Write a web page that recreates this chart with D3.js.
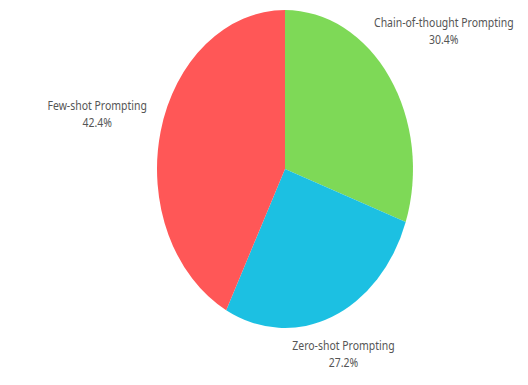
<!DOCTYPE html>
<html>
<head>
<meta charset="utf-8">
<script src="https://cdn.jsdelivr.net/npm/d3@7"></script>
<style>
  body { margin: 0; background: #fff; }
  svg { display: block; }
  .label { font-family: "Noto Sans", "Open Sans", sans-serif; font-size: 13px; fill: #555; }
</style>
</head>
<body>
<svg width="528" height="385"></svg>
<script>
const categories = ["Chain-of-thought Prompting", "Zero-shot Prompting", "Few-shot Prompting"];
const values = [30.4, 27.2, 42.4];
const colors = ["#7ed957", "#1cc0e2", "#ff5757"];

const svg = d3.select("svg"),
    width = +svg.attr("width"),
    height = +svg.attr("height");

const radius = 159;
// picture is squashed horizontally, so scale x
const g = svg.append("g")
    .attr("transform", "translate(285,169) scale(0.805,1)");

const pie = d3.pie().sort(null).value(d => d);
const arcs = pie(values);
const arc = d3.arc().innerRadius(0).outerRadius(radius);

g.selectAll("path")
    .data(arcs)
    .join("path")
    .attr("d", arc)
    .attr("fill", (d, i) => colors[i]);

const labelScale = [1.52, 1.24, 1.51];
const label = g.selectAll("text")
    .data(arcs)
    .join("text")
    .attr("class", "label")
    .attr("text-anchor", "middle")
    .attr("transform", (d, i) => {
        const a = (d.startAngle + d.endAngle) / 2;
        const r = radius * labelScale[i];
        return `translate(${Math.sin(a) * r},${-Math.cos(a) * r})`;
    });

label.append("tspan")
    .attr("x", 0)
    .attr("dy", "-0.2em")
    .text((d, i) => categories[i]);
label.append("tspan")
    .attr("x", 0)
    .attr("dy", "1.35em")
    .text(d => d.value.toFixed(1) + "%");
</script>
</body>
</html>
